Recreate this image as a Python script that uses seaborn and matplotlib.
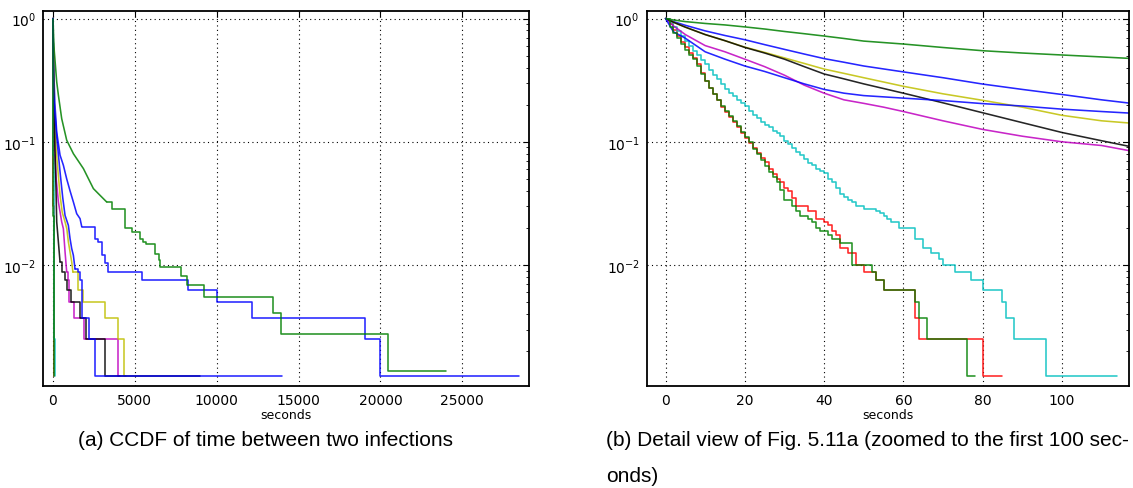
import numpy as np
import matplotlib
matplotlib.use("Agg")
import matplotlib.pyplot as plt
from matplotlib.ticker import FixedLocator, NullLocator, NullFormatter, FixedFormatter, LogLocator
import seaborn as sns

# ---------------- data (CCDF values) ----------------
# series 1: blue, long tail (ends ~28500 s)
blue1_x = [0, 2, 5, 10, 15, 20, 25, 30, 35, 40, 45, 50, 60, 70, 80, 90, 100, 110, 117,
           230, 433, 637, 840, 1044, 1247, 1451, 1655, 1758]
blue1_y = [1.0, 0.944, 0.881, 0.794, 0.728, 0.673, 0.614, 0.562, 0.515, 0.473, 0.442, 0.412,
           0.369, 0.331, 0.294, 0.266, 0.242, 0.219, 0.206,
           0.12, 0.078, 0.0645, 0.05, 0.04, 0.0325, 0.0261, 0.0238, 0.0205]
blue1_tx = [1758, 2570, 2774, 2977, 3181, 3385, 5420, 8250, 10000, 12140, 19050, 20000, 28470]
blue1_ty = [0.0205, 0.0164, 0.0154, 0.012, 0.0103, 0.00875, 0.0075, 0.00625, 0.005,
            0.00375, 0.0025, 0.00125, 0.00125]

# series 2: green, long tail (ends ~24000 s)
green1_x = [0, 2, 5, 10, 15, 20, 25, 30, 35, 40, 45, 50, 60, 70, 80, 90, 100, 110, 117,
            230, 332, 535, 840, 1250, 1860, 2470, 2770, 3280]
green1_y = [1.0, 0.973, 0.944, 0.912, 0.887, 0.855, 0.822, 0.785, 0.753, 0.721, 0.689, 0.656,
            0.621, 0.582, 0.548, 0.525, 0.506, 0.488, 0.475,
            0.306, 0.239, 0.154, 0.103, 0.080, 0.0606, 0.0417, 0.038, 0.0325]
green1_tx = [3280, 3590, 4400, 4800, 5300, 5500, 5665, 6250, 6450, 6550, 7840, 8200, 9200,
             13430, 13950, 20450, 24000]
green1_ty = [0.0325, 0.0287, 0.0198, 0.0185, 0.0164, 0.0154, 0.0149, 0.0123, 0.011, 0.0096,
             0.0082, 0.00685, 0.00548, 0.0041, 0.00274, 0.00137, 0.00137]

# series 3: red (fast decay, ends at 85 s)
red_x = list(range(0, 34)) + [36, 38, 40, 41, 42, 43, 44, 46, 48, 50, 53, 55, 63, 64, 80, 85]
red_y = [1.0, 0.90, 0.81, 0.72, 0.645, 0.59, 0.525, 0.48, 0.427, 0.363, 0.309, 0.275, 0.245,
         0.219, 0.19, 0.174, 0.158, 0.145, 0.132, 0.117, 0.107, 0.098, 0.089, 0.081, 0.074,
         0.068, 0.060, 0.055, 0.050, 0.047, 0.0425, 0.040, 0.035, 0.030,
         0.0275, 0.02375, 0.0225, 0.02125, 0.01875, 0.0175, 0.01375, 0.0125, 0.01, 0.00875,
         0.0075, 0.00625, 0.00375, 0.0025, 0.00125, 0.00125]

# series 4: cyan (ends at ~114 s)
cyan_x = list(range(0, 49)) + [50, 53, 54, 55, 56, 57, 59, 63, 65, 67, 69, 70, 73, 77, 80,
                               85, 86, 88, 96, 114]
cyan_y = [1.0, 0.93, 0.85, 0.79, 0.72, 0.66, 0.60, 0.55, 0.51, 0.46, 0.43, 0.38, 0.345, 0.325,
          0.295, 0.27, 0.25, 0.235, 0.22, 0.205, 0.195, 0.178, 0.166, 0.155, 0.145, 0.138,
          0.132, 0.123, 0.117, 0.112, 0.102, 0.0955, 0.089, 0.083, 0.0775, 0.072, 0.0675,
          0.0645, 0.060, 0.0575, 0.056, 0.050, 0.047, 0.0425, 0.038, 0.0355, 0.0338, 0.0323,
          0.030,
          0.02875, 0.0275, 0.02625, 0.025, 0.02375, 0.0225, 0.02, 0.01625, 0.01375, 0.0125,
          0.01125, 0.01, 0.00875, 0.0075, 0.00625, 0.005, 0.00375, 0.0025, 0.00125, 0.00125]

# series 5: magenta
magenta_x = [0, 2, 5, 10, 15, 20, 25, 30, 35, 40, 45, 50, 55, 60, 70, 80, 90, 100, 110, 117,
             200, 332, 535, 637, 739, 840]
magenta_y = [1.0, 0.871, 0.741, 0.603, 0.537, 0.468, 0.407, 0.347, 0.288, 0.248, 0.219, 0.205,
             0.191, 0.176, 0.148, 0.126, 0.111, 0.100, 0.0933, 0.0847,
             0.05, 0.0325, 0.0224, 0.0197, 0.0128, 0.0088]
magenta_tx = [840, 940, 1000, 1290, 1920, 3990, 4100]
magenta_ty = [0.0088, 0.0075, 0.005, 0.00375, 0.0025, 0.00125, 0.00125]

# series 6: yellow
yellow_x = [0, 2, 5, 10, 15, 20, 25, 30, 35, 40, 45, 50, 60, 70, 80, 90, 100, 110, 117,
            200, 433, 567, 739, 850, 942, 1044, 1146, 1220]
yellow_y = [1.0, 0.933, 0.851, 0.741, 0.661, 0.586, 0.531, 0.479, 0.432, 0.389, 0.359, 0.331,
            0.282, 0.245, 0.217, 0.191, 0.164, 0.148, 0.142,
            0.085, 0.037, 0.0268, 0.0224, 0.0196, 0.0154, 0.0128, 0.0106, 0.00875]
yellow_tx = [1220, 1530, 1850, 3180, 3970, 4330, 4450]
yellow_ty = [0.00875, 0.00625, 0.005, 0.00375, 0.0025, 0.00125, 0.00125]

# series 7: black
black_x = [0, 2, 5, 10, 15, 20, 25, 30, 35, 40, 45, 50, 60, 70, 80, 90, 100, 110, 117,
           150, 190, 230, 332, 433]
black_y = [1.0, 0.933, 0.851, 0.741, 0.661, 0.583, 0.525, 0.468, 0.407, 0.355, 0.324, 0.295,
           0.248, 0.207, 0.172, 0.143, 0.119, 0.102, 0.0918,
           0.065, 0.04, 0.0224, 0.0154, 0.0106]
black_tx = [433, 540, 760, 850, 1080, 1630, 1990, 3200, 9000]
black_ty = [0.0106, 0.00875, 0.0075, 0.00625, 0.005, 0.00375, 0.0025, 0.00125, 0.00125]

# series 8: blue, shorter tail (ends ~14000 s)
blue2_x = [0, 2, 5, 10, 15, 20, 25, 30, 35, 40, 45, 50, 60, 70, 80, 90, 100, 110, 117,
           230, 433, 600, 739, 942, 1044, 1146, 1247, 1349]
blue2_y = [1.0, 0.78, 0.692, 0.537, 0.468, 0.412, 0.372, 0.331, 0.295, 0.266, 0.248, 0.237,
           0.226, 0.216, 0.204, 0.195, 0.184, 0.176, 0.171,
           0.11, 0.057, 0.035, 0.0253, 0.021, 0.0164, 0.0136, 0.012, 0.0093]
blue2_tx = [1349, 1553, 1655, 1758, 1800, 2220, 2575, 14000]
blue2_ty = [0.0093, 0.00875, 0.0075, 0.00625, 0.00375, 0.0025, 0.00125, 0.00125]

# series 9: green, fast decay (ends at 78 s)
green2_x = list(range(0, 30)) + [30, 32, 33, 34, 36, 37, 38, 39, 41, 42, 44, 47, 52, 53, 55,
                                 63, 64, 66, 76, 78]
green2_y = [1.0, 0.85, 0.76, 0.69, 0.62, 0.56, 0.51, 0.47, 0.41, 0.355, 0.31, 0.275, 0.245,
            0.219, 0.195, 0.178, 0.162, 0.148, 0.135, 0.12, 0.11, 0.10, 0.088, 0.079, 0.071,
            0.064, 0.057, 0.052, 0.047, 0.041,
            0.03375, 0.03, 0.0275, 0.025, 0.02375, 0.0225, 0.02, 0.01875, 0.0175, 0.01625,
            0.015, 0.01, 0.00875, 0.0075, 0.00625, 0.005, 0.00375, 0.0025, 0.00125, 0.00125]

COLORS = {"b": "#0000ff", "g": "#008000", "r": "#ff0000", "c": "#00bfbf",
          "m": "#bf00bf", "y": "#bfbf00", "k": "#000000"}

# (head x, head y, tail x, tail y, colour key) in drawing order
series = [
    (blue1_x, blue1_y, blue1_tx, blue1_ty, "b"),
    (green1_x, green1_y, green1_tx, green1_ty, "g"),
    (None, None, red_x, red_y, "r"),
    (None, None, cyan_x, cyan_y, "c"),
    (magenta_x, magenta_y, magenta_tx, magenta_ty, "m"),
    (yellow_x, yellow_y, yellow_tx, yellow_ty, "y"),
    (black_x, black_y, black_tx, black_ty, "k"),
    (blue2_x, blue2_y, blue2_tx, blue2_ty, "b"),
    (None, None, green2_x, green2_y, "g"),
]

xticks_a = [0, 5000, 10000, 15000, 20000, 25000]
xticks_b = [0, 20, 40, 60, 80, 100]
yticks = [1e-2, 1e-1, 1e0]
ytick_labels = [r"$10^{-2}$", r"$10^{-1}$", r"$10^{0}$"]
captions = ["(a) CCDF of time between two infections",
            "(b) Detail view of Fig. 5.11a (zoomed to the first 100 sec-",
            "onds)"]

# ---------------- styling ----------------
sns.set_theme(style="white")
plt.rcParams["font.family"] = ["DejaVu Sans"]
plt.rcParams["mathtext.fontset"] = "dejavusans"
for key in ["text.color", "axes.labelcolor", "xtick.color", "ytick.color", "axes.edgecolor"]:
    plt.rcParams[key] = "black"

fig = plt.figure(figsize=(11.33, 4.89), dpi=100)
ax_a = fig.add_axes([0.0382, 0.2092, 0.4284, 0.7658])
ax_b = fig.add_axes([0.5708, 0.2092, 0.4259, 0.7658])

LW = 1.15
ALPHA = 0.85


def draw(ax):
    ax.set_yscale("log")
    for hx, hy, tx, ty, ck in series:
        col = COLORS[ck]
        if hx is not None:
            sns.lineplot(x=hx, y=hy, ax=ax, color=col, lw=LW, alpha=ALPHA,
                         estimator=None, sort=False, legend=False)
        sns.lineplot(x=tx, y=ty, ax=ax, color=col, lw=LW, alpha=ALPHA,
                     estimator=None, sort=False, legend=False, drawstyle="steps-post")


def style(ax, xticks, xlim):
    ax.set_xlim(*xlim)
    ax.set_ylim(0.00105, 1.146)
    ax.xaxis.set_major_locator(FixedLocator(xticks))
    ax.xaxis.set_minor_locator(NullLocator())
    ax.yaxis.set_major_locator(FixedLocator(yticks))
    ax.yaxis.set_major_formatter(FixedFormatter(ytick_labels))
    ax.yaxis.set_minor_locator(LogLocator(base=10, subs=np.arange(2, 10)))
    ax.yaxis.set_minor_formatter(NullFormatter())
    ax.tick_params(which="both", direction="in", top=True, right=True, color="black",
                   labelcolor="black")
    ax.tick_params(which="major", length=4, width=0.8, labelsize=10, pad=5)
    ax.tick_params(which="minor", length=2, width=0.6)
    ax.grid(True, which="major", color="black", linestyle=(0, (1, 3)), linewidth=0.8)
    ax.grid(False, which="minor")
    for sp in ax.spines.values():
        sp.set_color("black")
        sp.set_linewidth(1.3)
    ax.set_xlabel("seconds", fontsize=9, labelpad=1, color="black")
    ax.set_ylabel("")
    ax.set_axisbelow(True)


draw(ax_a)
draw(ax_b)
style(ax_a, xticks_a, (-590, 29050))
style(ax_b, xticks_b, (-4.75, 117))

cap_font = ["Liberation Sans", "DejaVu Sans"]
fig.text(266 / 1133, 1 - 441 / 489, captions[0], ha="center", va="center",
         fontsize=15, family=cap_font, color="black")
fig.text(606 / 1133, 1 - 441 / 489, captions[1], ha="left", va="center",
         fontsize=15, family=cap_font, color="black")
fig.text(606 / 1133, 1 - 477 / 489, captions[2], ha="left", va="center",
         fontsize=15, family=cap_font, color="black")

fig.savefig("out.png", dpi=100, facecolor="white")
